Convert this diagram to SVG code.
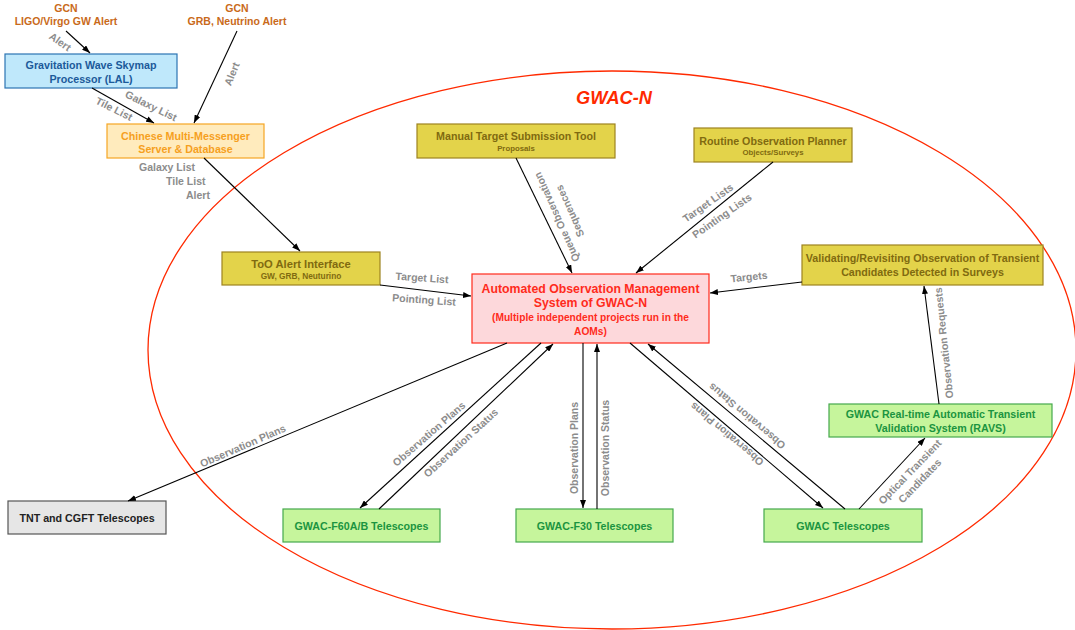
<svg xmlns="http://www.w3.org/2000/svg" width="1075" height="630" viewBox="0 0 1075 630">
  <defs>
    <marker id="arrow" markerWidth="8" markerHeight="6" refX="8" refY="3" orient="auto" markerUnits="userSpaceOnUse">
      <path d="M0,0 L8,3 L0,6 z" fill="#000"/>
    </marker>
    <style>
      text { font-family: "Liberation Sans", Arial, Helvetica, sans-serif; font-weight: bold; }
      .t { text-anchor: middle; }
      .lbl { fill: #8c8c8c; font-size: 10.5px; text-anchor: middle; }
      .lbl-s { fill: #8c8c8c; font-size: 10.5px; }
      .src { fill: #c96a1a; font-size: 10.5px; text-anchor: middle; }
      .yel rect { fill: #e3d34a; stroke: #9d8420; stroke-width: 1.2; }
      .yel text { fill: #806a10; }
      .grn rect { fill: #c6f59c; stroke: #45a84d; stroke-width: 1.2; }
      .grn text { fill: #1b9440; }
      .conn line { stroke: #000; stroke-width: 1.1; marker-end: url(#arrow); }
    </style>
  </defs>

  <rect width="1075" height="630" fill="#fff"/>

  <!-- GWAC-N boundary -->
  <ellipse cx="612" cy="350" rx="464" ry="279" fill="none" stroke="#ff2a00" stroke-width="1.3"/>
  <text x="614" y="104" class="t" font-size="18.2" font-style="italic" fill="#ff2a00">GWAC-N</text>

  <!-- Alert sources -->
  <g id="gcn-gw">
    <text x="66" y="12" class="src">GCN</text>
    <text x="66" y="25" class="src">LIGO/Virgo GW Alert</text>
  </g>
  <g id="gcn-grb">
    <text x="237" y="12" class="src">GCN</text>
    <text x="237" y="25" class="src">GRB, Neutrino Alert</text>
  </g>

  <!-- Nodes -->
  <g id="lal">
    <rect x="5" y="54" width="172" height="34" fill="#bfe8fb" stroke="#2c74b3" stroke-width="1.2"/>
    <text x="91" y="69" class="t" font-size="10.7" fill="#1c5a9a">Gravitation Wave Skymap</text>
    <text x="91" y="83" class="t" font-size="10.7" fill="#1c5a9a">Processor (LAL)</text>
  </g>

  <g id="cmm">
    <rect x="107" y="124" width="157" height="34" fill="#ffebbd" stroke="#f6a623" stroke-width="1.2"/>
    <text x="185.5" y="140" class="t" font-size="10.7" fill="#f6a01e">Chinese Multi-Messenger</text>
    <text x="185.5" y="153" class="t" font-size="10.7" fill="#f6a01e">Server &amp; Database</text>
  </g>

  <g id="too" class="yel">
    <rect x="222" y="252" width="158" height="33"/>
    <text x="301" y="268" class="t" font-size="11.2">ToO Alert Interface</text>
    <text x="301" y="279" class="t" font-size="8.3">GW, GRB, Neuturino</text>
  </g>

  <g id="manual" class="yel">
    <rect x="417" y="124" width="198" height="34"/>
    <text x="516" y="140" class="t" font-size="10.7">Manual Target Submission Tool</text>
    <text x="516" y="151" class="t" font-size="7.8">Proposals</text>
  </g>

  <g id="routine" class="yel">
    <rect x="694" y="128" width="158" height="34"/>
    <text x="773" y="145" class="t" font-size="10.7">Routine Observation Planner</text>
    <text x="773" y="155" class="t" font-size="7.8">Objects/Surveys</text>
  </g>

  <g id="validating" class="yel">
    <rect x="802" y="245" width="241" height="40"/>
    <text x="922.5" y="262" class="t" font-size="10.7">Validating/Revisiting Observation of Transient</text>
    <text x="922.5" y="276" class="t" font-size="10.7">Candidates Detected in Surveys</text>
  </g>

  <g id="aom">
    <rect x="472" y="274" width="237" height="69" fill="#fdd8db" stroke="#ff2b1c" stroke-width="1.2"/>
    <text x="590.5" y="293" class="t" font-size="12.3" fill="#ff2b1c">Automated Observation Management</text>
    <text x="590.5" y="307" class="t" font-size="12.3" fill="#ff2b1c">System of GWAC-N</text>
    <text x="590.5" y="321" class="t" font-size="10.2" fill="#ff2b1c">(Multiple independent projects run in the</text>
    <text x="590.5" y="335" class="t" font-size="10.2" fill="#ff2b1c">AOMs)</text>
  </g>

  <g id="ravs" class="grn">
    <rect x="829" y="404" width="223" height="33"/>
    <text x="940.5" y="418" class="t" font-size="10.7">GWAC Real-time Automatic Transient</text>
    <text x="940.5" y="432" class="t" font-size="10.7">Validation System (RAVS)</text>
  </g>

  <g id="tnt">
    <rect x="8" y="501" width="158" height="33" fill="#e6e6e6" stroke="#555" stroke-width="1.2"/>
    <text x="87" y="521.5" class="t" font-size="10.7" fill="#222">TNT and CGFT Telescopes</text>
  </g>

  <g id="f60" class="grn">
    <rect x="283" y="509" width="157" height="33"/>
    <text x="361.5" y="529.5" class="t" font-size="10.7">GWAC-F60A/B Telescopes</text>
  </g>

  <g id="f30" class="grn">
    <rect x="516" y="509" width="157" height="33"/>
    <text x="594.5" y="529.5" class="t" font-size="10.7">GWAC-F30 Telescopes</text>
  </g>

  <g id="gwac" class="grn">
    <rect x="764" y="509" width="158" height="33"/>
    <text x="843" y="529.5" class="t" font-size="10.7">GWAC Telescopes</text>
  </g>

  <!-- Connectors -->
  <g id="connectors" class="conn">
    <line x1="66" y1="31" x2="90" y2="53"/>
    <line x1="237" y1="31" x2="194" y2="123"/>
    <line x1="92" y1="88" x2="154" y2="123"/>
    <line x1="204" y1="158" x2="300" y2="251"/>
    <line x1="380" y1="285" x2="471" y2="296"/>
    <line x1="516" y1="158" x2="572" y2="273"/>
    <line x1="773" y1="162" x2="636" y2="273"/>
    <line x1="802" y1="282" x2="710" y2="293"/>
    <line x1="939" y1="404" x2="924" y2="286"/>
    <line x1="507" y1="343" x2="128" y2="501"/>
    <line x1="541" y1="343" x2="360" y2="508"/>
    <line x1="379" y1="509" x2="553" y2="344"/>
    <line x1="583" y1="343" x2="583" y2="508"/>
    <line x1="597" y1="509" x2="597" y2="344"/>
    <line x1="630" y1="343" x2="823" y2="508"/>
    <line x1="845" y1="509" x2="648" y2="344"/>
    <line x1="859" y1="509" x2="925" y2="438"/>
  </g>

  <!-- Connector labels -->
  <g id="labels">
    <text class="lbl" transform="translate(60,42) rotate(35)" y="3.5">Alert</text>
    <text class="lbl" transform="translate(232,74) rotate(-68)" y="3.5">Alert</text>
    <text class="lbl" transform="translate(114,109) rotate(27)" y="3.5">Tile List</text>
    <text class="lbl" transform="translate(151,106) rotate(26)" y="3.5">Galaxy List</text>
    <text class="lbl-s" x="139" y="171">Galaxy List</text>
    <text class="lbl-s" x="166" y="185">Tile List</text>
    <text class="lbl-s" x="186" y="199">Alert</text>
    <text class="lbl" transform="translate(422,278) rotate(4)" y="3.5">Target List</text>
    <text class="lbl" transform="translate(424,300) rotate(4)" y="3.5">Pointing List</text>
    <text class="lbl" transform="translate(557,217) rotate(-114)" y="3.5">Queue Observation</text>
    <text class="lbl" transform="translate(570,211) rotate(-114)" y="3.5">Sequences</text>
    <text class="lbl" transform="translate(708,203) rotate(-35)" y="3.5">Target Lists</text>
    <text class="lbl" transform="translate(722,216) rotate(-35)" y="3.5">Pointing Lists</text>
    <text class="lbl" transform="translate(749,277) rotate(-6)" y="3.5">Targets</text>
    <text class="lbl" transform="translate(944,343) rotate(-96)" y="3.5">Observation Requests</text>
    <text class="lbl" transform="translate(243,446) rotate(-23.5)" y="3.5">Observation Plans</text>
    <text class="lbl" transform="translate(429,434) rotate(-41)" y="3.5">Observation Plans</text>
    <text class="lbl" transform="translate(461,443) rotate(-42.5)" y="3.5">Observation Status</text>
    <text class="lbl" transform="translate(574,448) rotate(-90)" y="3.5">Observation Plans</text>
    <text class="lbl" transform="translate(605,448) rotate(-90)" y="3.5">Observation Status</text>
    <text class="lbl" transform="translate(727,434) rotate(-140)" y="3.5">Observation Plans</text>
    <text class="lbl" transform="translate(747,416) rotate(-140)" y="3.5">Observation Status</text>
    <text class="lbl" transform="translate(910,472) rotate(-46)" y="3.5">Optical Transient</text>
    <text class="lbl" transform="translate(920,481) rotate(-46)" y="3.5">Candidates</text>
  </g>
</svg>
